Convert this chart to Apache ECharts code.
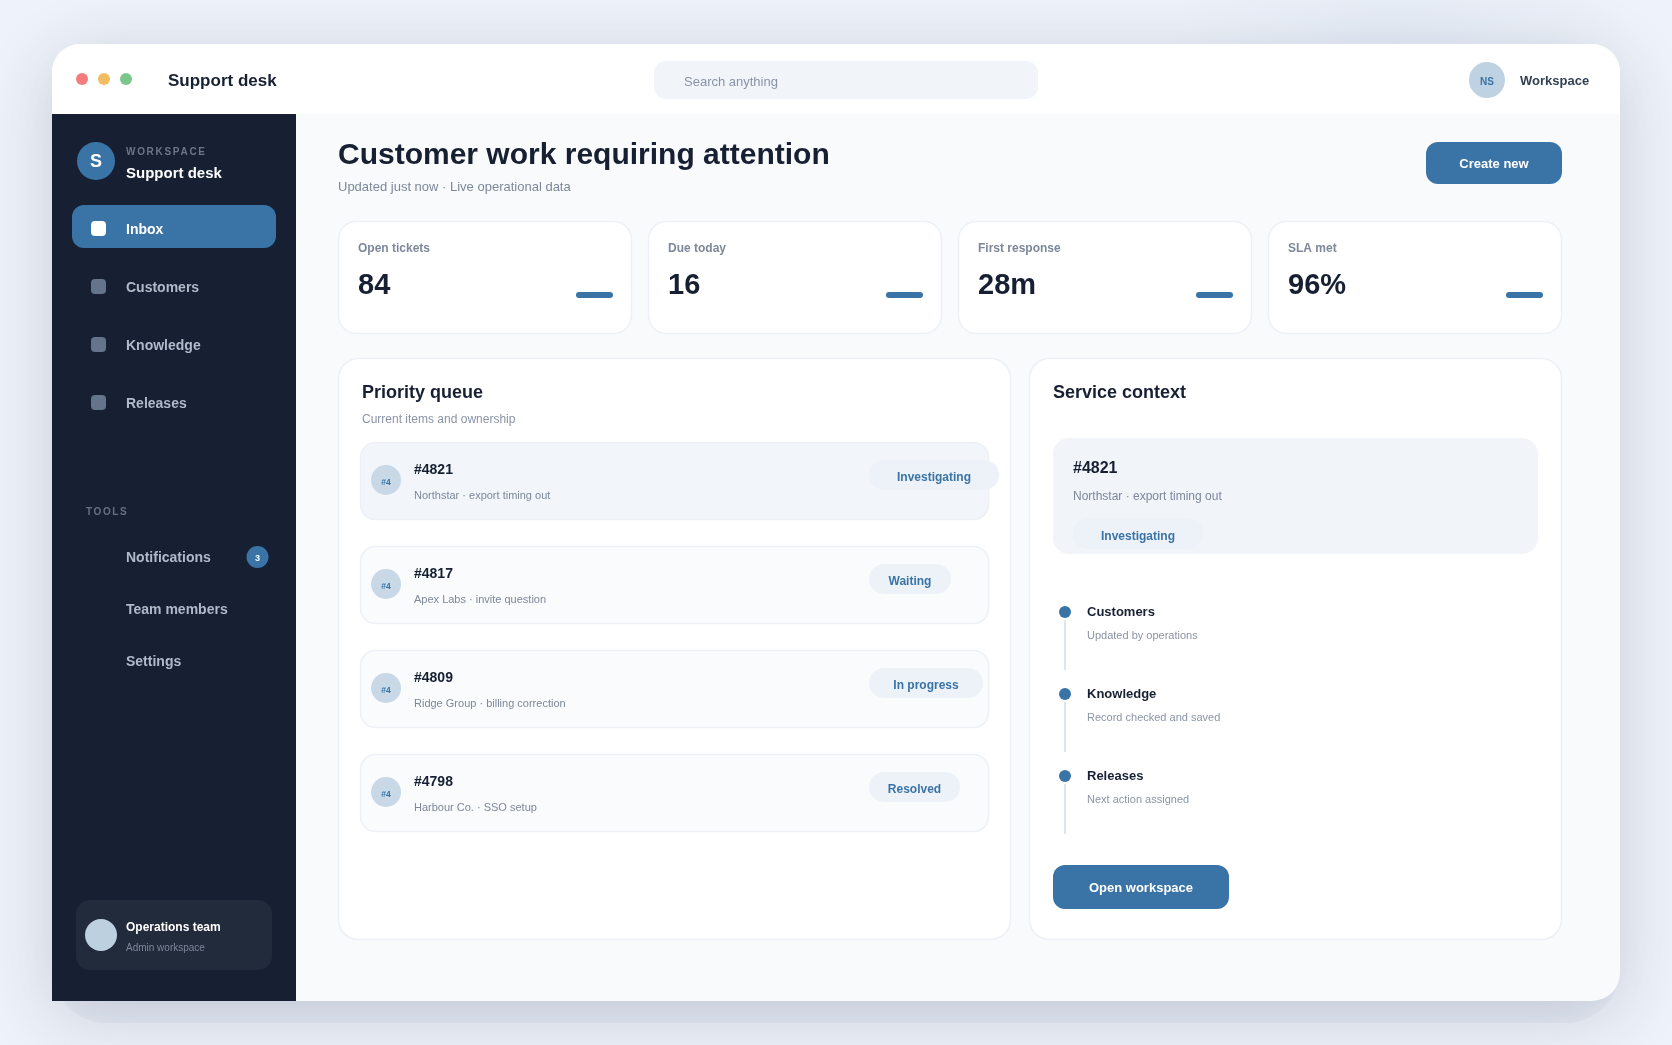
<!DOCTYPE html>
<html><head><meta charset="utf-8">
<style>html,body{margin:0;padding:0;background:#eef2fa}#c{width:1672px;height:1045px}</style>
<script src="https://cdn.jsdelivr.net/npm/echarts@6/dist/echarts.min.js"></script>
</head><body><div id="c"></div>
<script>
// ---- content ----
const appTitle = 'Support desk';
const searchHint = 'Search anything';
const navItems = ['Inbox', 'Customers', 'Knowledge', 'Releases'];
const toolItems = ['Notifications', 'Team members', 'Settings'];
const kpiLabels = ['Open tickets', 'Due today', 'First response', 'SLA met'];
const kpiValues = ['84', '16', '28m', '96%'];
const queueIds = ['#4821', '#4817', '#4809', '#4798'];
const queueSubs = ['Northstar · export timing out', 'Apex Labs · invite question', 'Ridge Group · billing correction', 'Harbour Co. · SSO setup'];
const queueStatus = ['Investigating', 'Waiting', 'In progress', 'Resolved'];
const stepTitles = ['Customers', 'Knowledge', 'Releases'];
const stepSubs = ['Updated by operations', 'Record checked and saved', 'Next action assigned'];

// ---- tracked text (letter-spacing has no zrender option) ----
const tracked = {WORKSPACE: '1.7px', TOOLS: '1.6px'};
const proto = CanvasRenderingContext2D.prototype, origFill = proto.fillText;
proto.fillText = function (t, x, y, m) {
  if (tracked[t]) { this.letterSpacing = tracked[t]; origFill.call(this, t, x, y); this.letterSpacing = '0px'; }
  else if (m === undefined) origFill.call(this, t, x, y); else origFill.call(this, t, x, y, m);
};

// ---- palette ----
const NAVY = '#172033', BLUE = '#3a74a6', MUTED = '#7d889a', LINE = '#edf1f6', PILL = '#edf2f8', NAVTXT = '#b0bac9';
const FF = '"Liberation Sans", Arial, sans-serif';
const els = [];
const rect = (x, y, w, h, r, fill, extra) => els.push(Object.assign({type: 'rect', silent: true, shape: {x, y, width: w, height: h, r}, style: {fill}}, extra || {}));
const card = (x, y, w, h, r, fill) => rect(x + .5, y + .5, w - 1, h - 1, r, fill, {style: {fill, stroke: LINE, lineWidth: 1.5}});
const circ = (cx, cy, r, fill) => els.push({type: 'circle', silent: true, shape: {cx, cy, r}, style: {fill}});
const txt = (text, x, y, size, weight, fill, align) => els.push({type: 'text', silent: true, style: {text, x, y, fill,
  font: `${weight} ${size}px ${FF}`, textAlign: align || 'left', textVerticalAlign: 'middle', align: align || 'left', verticalAlign: 'middle'}});

// backdrop layers
circ(1400, 50, 230, new echarts.graphic.RadialGradient(0.5, 0.5, 0.5, [
  {offset: 0, color: 'rgba(120,150,185,0.07)'}, {offset: 1, color: 'rgba(120,150,185,0)'}]));
rect(52, 900, 1568, 123, 55, 'rgba(110,120,145,0.05)');
rect(52, 44, 1568, 957, [28, 28, 28, 0], '#f8fafc', {style: {fill: '#f8fafc', shadowBlur: 70, shadowOffsetY: 14, shadowColor: 'rgba(30,45,80,0.20)'}});

// title bar
rect(52, 44, 1568, 70, [28, 28, 0, 0], '#ffffff');
[['#f47c7c', 82], ['#f2bc60', 104], ['#7bc68a', 126]].forEach(d => circ(d[1], 79, 6, d[0]));
txt(appTitle, 168, 81, 17, 'bold', NAVY);
rect(654, 61, 384, 38, 12, '#f1f5f9');
txt(searchHint, 684, 82, 13, 'normal', '#8a94a6');
circ(1487, 80, 18, '#bfd2e3');
txt('NS', 1487, 82, 10, 'bold', BLUE, 'center');
txt('Workspace', 1520, 81, 13, 'bold', '#334155');

// sidebar
rect(52, 114, 244, 887, 0, NAVY);
circ(96, 161, 19, BLUE);
txt('S', 96, 162, 18, 'bold', '#ffffff', 'center');
txt('WORKSPACE', 126, 152, 10, 'bold', '#6b7689');
txt(appTitle, 126, 174, 15, 'bold', '#ffffff');
rect(72, 205, 204, 43, 12, BLUE);
navItems.forEach((n, i) => {
  const y = 229 + i * 58;
  rect(91, y - 8, 15, 15, 4, i === 0 ? '#ffffff' : '#64748b');
  txt(n, 126, y + 1, 14, 'bold', i === 0 ? '#ffffff' : NAVTXT);
});
txt('TOOLS', 86, 512, 10, 'bold', '#667085');
toolItems.forEach((n, i) => txt(n, 126, 558 + i * 52, 14, 'bold', NAVTXT));
circ(257.5, 557, 11, BLUE);
txt('3', 257.5, 559, 9, 'bold', '#ffffff', 'center');
rect(76, 900, 196, 70, 14, '#222b3b');
circ(101, 935, 16, '#bcd0e0');
txt('Operations team', 126, 928, 12, 'bold', '#ffffff');
txt('Admin workspace', 126, 948, 10, 'normal', MUTED);

// page header
txt('Customer work requiring attention', 338, 156, 30, 'bold', NAVY);
txt('Updated just now · Live operational data', 338, 187, 13, 'normal', MUTED);
rect(1426, 142, 136, 42, 12, BLUE);
txt('Create new', 1494, 164, 13, 'bold', '#ffffff', 'center');

// KPI cards
const kpiX = [338, 648, 958, 1268];
kpiLabels.forEach((l, i) => {
  card(kpiX[i], 221, 294, 113, 18, '#ffffff');
  txt(l, kpiX[i] + 20, 249, 12, 'bold', MUTED);
  txt(kpiValues[i], kpiX[i] + 20, 286, 29, 'bold', NAVY);
  rect(kpiX[i] + 238, 292, 37, 6, 3, BLUE);
});

// priority queue
card(338, 358, 673, 582, 20, '#ffffff');
txt('Priority queue', 362, 393, 18, 'bold', NAVY);
txt('Current items and ownership', 362, 420, 12, 'normal', '#8a94a6');
const pillW = {Investigating: 130, Waiting: 82, 'In progress': 114, Resolved: 91};
queueIds.forEach((id, i) => {
  const y = 442 + i * 104;
  card(360, y, 629, 78, 15, i === 0 ? '#f2f6fa' : '#f9fbfd');
  circ(386, y + 38, 15, '#c8d8e7');
  txt('#4', 386, y + 41, 8.5, 'bold', BLUE, 'center');
  txt(id, 414, y + 28, 14, 'bold', NAVY);
  txt(queueSubs[i], 414, y + 54, 11, 'normal', MUTED);
  const w = pillW[queueStatus[i]];
  rect(869, y + 18, w, 30, 15, PILL);
  txt(queueStatus[i], 869 + w / 2, y + 36, 12, 'bold', BLUE, 'center');
});

// service context
card(1029, 358, 533, 582, 20, '#ffffff');
txt('Service context', 1053, 393, 18, 'bold', NAVY);
rect(1053, 438, 485, 116, 16, '#f1f4f9');
txt(queueIds[0], 1073, 469, 16, 'bold', NAVY);
txt(queueSubs[0], 1073, 497, 12, 'normal', MUTED);
rect(1073, 518, 130, 31, 15.5, PILL);
txt(queueStatus[0], 1138, 537, 12, 'bold', BLUE, 'center');
stepTitles.forEach((t, i) => {
  const y = 612 + i * 82;
  circ(1065, y, 6, BLUE);
  rect(1064, y + 8, 2, 50, 0, '#dde5ef');
  txt(t, 1087, y + .5, 13, 'bold', NAVY);
  txt(stepSubs[i], 1087, y + 24, 11, 'normal', '#8a94a6');
});
rect(1053, 865, 176, 44, 12, BLUE);
txt('Open workspace', 1141, 888, 13, 'bold', '#ffffff', 'center');

const chart = echarts.init(document.getElementById('c'), null, {renderer: 'canvas', width: 1672, height: 1045});
chart.setOption({
  animation: false,
  backgroundColor: '#eef2fa',
  graphic: {elements: els}
});
</script></body></html>
